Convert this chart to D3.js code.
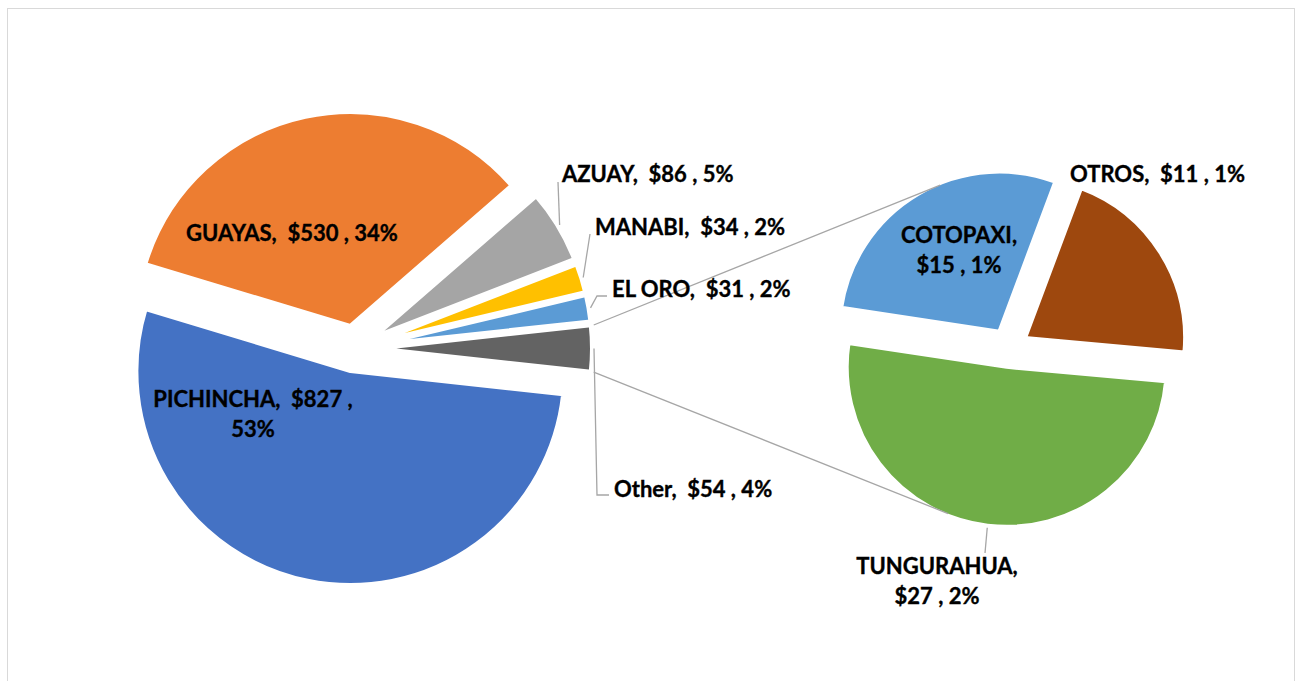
<!DOCTYPE html>
<html>
<head>
<meta charset="utf-8">
<script src="https://cdn.jsdelivr.net/npm/d3@7"></script>
<style>
body { margin: 0; background: #fff; }
text { font-family: Lato, "Open Sans", sans-serif; font-weight: 700; font-size: 22px; fill: #000; stroke: #000; stroke-width: 0.35px; white-space: pre; }
</style>
</head>
<body>
<svg id="chart" width="1297" height="681"></svg>
<script>
// main pie data
var mainNames = ["PICHINCHA", "GUAYAS", "AZUAY", "MANABI", "EL ORO", "Other"];
var mainValues = [827, 530, 86, 34, 31, 54];
var mainPcts = ["53%", "34%", "5%", "2%", "2%", "4%"];
var mainColors = ["#4472C4", "#ED7D31", "#A5A5A5", "#FFC000", "#5B9BD5", "#636363"];

// second pie (breakdown of "Other")
var subNames = ["COTOPAXI", "OTROS", "TUNGURAHUA"];
var subValues = [15, 11, 27];
var subPcts = ["1%", "1%", "2%"];
var subColors = ["#5B9BD5", "#9E480E", "#70AD47"];

var svg = d3.select("#chart");

svg.append("rect")
    .attr("x", 7.5).attr("y", 8.5)
    .attr("width", 1287).attr("height", 700)
    .attr("fill", "#fff").attr("stroke", "#d9d9d9");

var gap = 4; // white border round each slice
var mainC = {x: 355, y: 348.5}, mainR = 212, mainBurst = 23;
var subC = {x: 1009, y: 348}, subR = 158, subBurst = 19;

// "Other" sits centred on 3 o'clock, facing the second pie
var otherSpan = mainValues[5] / d3.sum(mainValues) * 2 * Math.PI;
var mainStart = Math.PI / 2 + otherSpan / 2;
var mainPie = d3.pie().sort(null).value(function(d) { return d; })
    .startAngle(mainStart).endAngle(mainStart + 2 * Math.PI);
var subStart = -81.4 * Math.PI / 180;
var subPie = d3.pie().sort(null).value(function(d) { return d; })
    .startAngle(subStart).endAngle(subStart + 2 * Math.PI);

var mainArcs = mainPie(mainValues);
var subArcs = subPie(subValues);

function sliceCenter(a, c, burst) {
    var m = (a.startAngle + a.endAngle) / 2;
    return {x: c.x + burst * Math.sin(m), y: c.y - burst * Math.cos(m)};
}
function onSlice(a, c, burst, ang, r) {
    var sc = sliceCenter(a, c, burst);
    return [sc.x + r * Math.sin(ang), sc.y - r * Math.cos(ang)];
}
function mid(a) { return (a.startAngle + a.endAngle) / 2; }

function drawPie(arcs, c, r, burst, colors) {
    var arc = d3.arc().innerRadius(0).outerRadius(r + gap / 2);
    svg.append("g").selectAll("path")
        .data(arcs)
        .enter().append("path")
        .attr("transform", function(d) {
            var sc = sliceCenter(d, c, burst);
            return "translate(" + sc.x + "," + sc.y + ")";
        })
        .attr("d", arc)
        .attr("fill", function(d, i) { return colors[i]; })
        .attr("stroke", "#fff")
        .attr("stroke-width", gap)
        .attr("stroke-linejoin", "round");
}

drawPie(mainArcs, mainC, mainR, mainBurst, mainColors);
drawPie(subArcs, subC, subR, subBurst, subColors);

// connector lines from "Other" to the second pie
function tangent(p, q, r, upper) {
    var dx = q.x - p[0], dy = q.y - p[1];
    var d = Math.sqrt(dx * dx + dy * dy);
    var phi = Math.atan2(dy, dx), alpha = Math.asin(r / d);
    var t = upper ? phi - alpha : phi + alpha;
    var L = Math.sqrt(d * d - r * r);
    return [p[0] + L * Math.cos(t), p[1] + L * Math.sin(t)];
}
var other = mainArcs[5];
var p1 = onSlice(other, mainC, mainBurst, other.startAngle, mainR + 5);
var p2 = onSlice(other, mainC, mainBurst, other.endAngle, mainR + 5);
var t1 = tangent(p1, sliceCenter(subArcs[0], subC, subBurst), subR, true);
var t2 = tangent(p2, sliceCenter(subArcs[2], subC, subBurst), subR, false);
var line = d3.line();
[[p1, t1], [p2, t2]].forEach(function(pts) {
    svg.append("path").attr("d", line(pts))
        .attr("fill", "none").attr("stroke", "#a6a6a6").attr("stroke-width", 1.3);
});

// label layout: wrap 0 = one line, 1 = break before pct, 2 = break after name
var mainLabels = [
    {x: 253, y: 407, anchor: "middle", wrap: 1},
    {x: 292, y: 241, anchor: "middle", wrap: 0},
    {x: 562, y: 182, anchor: "start", wrap: 0, leader: [[558, 182]]},
    {x: 595, y: 235, anchor: "start", wrap: 0, leader: [[590, 234]]},
    {x: 612, y: 297, anchor: "start", wrap: 0, leader: [[597, 296], [607, 296]]},
    {x: 614, y: 497, anchor: "start", wrap: 0, leader: [[597, 495], [609, 495]]}
];
var subLabels = [
    {x: 959, y: 243, anchor: "middle", wrap: 2},
    {x: 1070, y: 182, anchor: "start", wrap: 0},
    {x: 937, y: 574, anchor: "middle", wrap: 2, leader: [[985, 553]]}
];

function labelLines(name, value, pct, wrap) {
    if (wrap === 1) return [name + ",  $" + value + " ,", pct];
    if (wrap === 2) return [name + ",", "$" + value + " , " + pct];
    return [name + ",  $" + value + " , " + pct];
}

function drawLabels(arcs, c, r, burst, names, values, pcts, layout) {
    arcs.forEach(function(a, i) {
        var lay = layout[i];
        if (lay.leader) {
            var start = onSlice(a, c, burst, mid(a), r + 4);
            svg.append("path")
                .attr("d", line([start].concat(lay.leader)))
                .attr("fill", "none").attr("stroke", "#a6a6a6").attr("stroke-width", 1.3);
        }
        var t = svg.append("text")
            .attr("x", lay.x).attr("y", lay.y)
            .attr("text-anchor", lay.anchor);
        labelLines(names[i], values[i], pcts[i], lay.wrap).forEach(function(s, k) {
            t.append("tspan").attr("x", lay.x).attr("dy", k === 0 ? 0 : 29.5).text(s);
        });
    });
}

drawLabels(mainArcs, mainC, mainR, mainBurst, mainNames, mainValues, mainPcts, mainLabels);
drawLabels(subArcs, subC, subR, subBurst, subNames, subValues, subPcts, subLabels);
</script>
</body>
</html>
